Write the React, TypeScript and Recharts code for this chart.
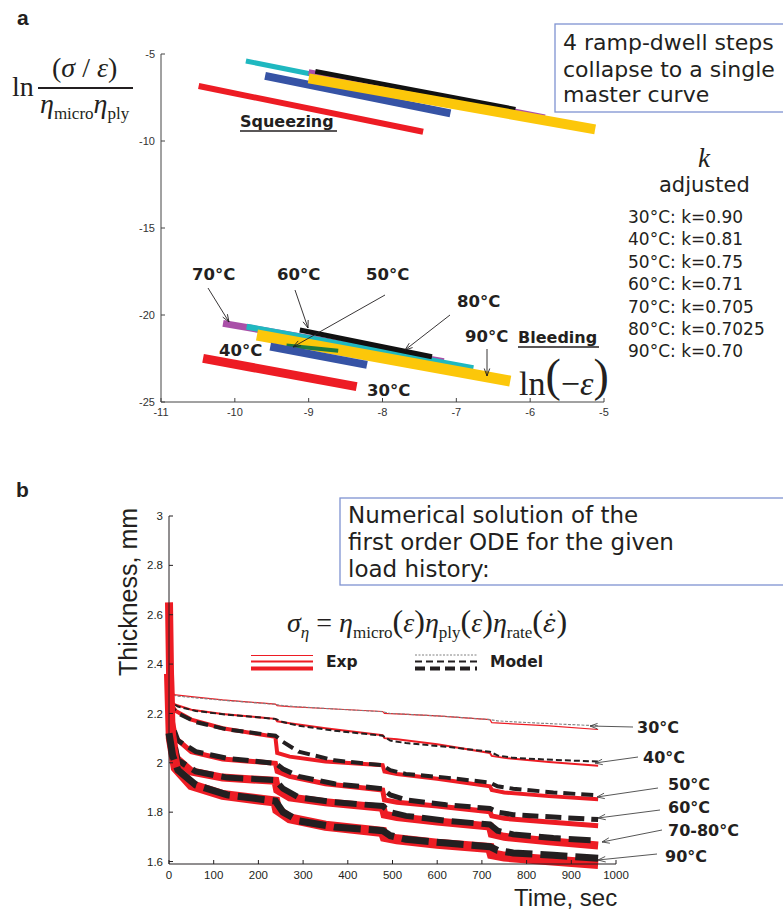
import React from 'react';
import { ComposedChart, Line, XAxis, YAxis } from 'recharts';

// ---- panel a: ln(sigma/eps)/(eta_micro*eta_ply) vs ln(-eps) ----
const xTicksA = [-11, -10, -9, -8, -7, -6, -5];
const yTicksA = [-25, -20, -15, -10, -5];

// band ends [ln(-eps), value], squeezing group
const sqz30 = [[-10.49, -6.84], [-7.45, -9.47]];
const sqz40 = [[-9.59, -6.26], [-7.08, -8.41]];
const sqz60 = [[-8.91, -6.0], [-6.2, -8.18]];
const sqz70 = [[-9.0, -6.05], [-5.8, -8.64]];
const sqz80 = [[-9.85, -5.4], [-5.37, -9.2]];
const sqz90 = [[-9.0, -6.4], [-5.12, -9.33]];

// bleeding group
const bld30 = [[-10.43, -22.49], [-8.35, -24.12]];
const bld40 = [[-9.52, -21.82], [-8.21, -22.87]];
const bld50 = [[-9.3, -21.75], [-8.6, -22.05]];
const bld60 = [[-9.12, -20.86], [-7.33, -22.4]];
const bld70 = [[-10.16, -20.48], [-7.17, -22.68]];
const bld80 = [[-9.84, -20.67], [-6.77, -23.06]];
const bld90 = [[-9.7, -21.15], [-6.27, -23.8]];

const kLines = [
  '30°C: k=0.90',
  '40°C: k=0.81',
  '50°C: k=0.75',
  '60°C: k=0.71',
  '70°C: k=0.705',
  '80°C: k=0.7025',
  '90°C: k=0.70',
];

// ---- panel b: thickness vs time ----
const xTicksB = [0, 100, 200, 300, 400, 500, 600, 700, 800, 900, 1000];
const yTicksB = [1.6, 1.8, 2, 2.2, 2.4, 2.6, 2.8, 3];

const tExp = [0, 4, 15, 50, 120, 238, 242, 270, 350, 478, 482, 510, 600, 718, 722, 750, 850, 960];
const tModel = [0, 8, 20, 60, 130, 238, 255, 290, 370, 478, 495, 530, 620, 718, 735, 770, 860, 960];

const exp30 = [2.3, 2.285, 2.275, 2.268, 2.255, 2.238, 2.232, 2.228, 2.22, 2.208, 2.2, 2.198, 2.19, 2.175, 2.163, 2.16, 2.15, 2.135];
const exp40 = [2.3, 2.25, 2.235, 2.215, 2.198, 2.178, 2.168, 2.16, 2.14, 2.112, 2.1, 2.095, 2.075, 2.04, 2.028, 2.02, 2.003, 1.988];
const exp50 = [2.36, 2.24, 2.21, 2.175, 2.14, 2.105, 2.04, 2.025, 2.005, 1.99, 1.965, 1.955, 1.935, 1.905, 1.89, 1.88, 1.865, 1.852];
const exp60 = [2.36, 2.2, 2.1, 2.045, 2.015, 1.998, 1.965, 1.945, 1.915, 1.89, 1.85, 1.84, 1.825, 1.802, 1.785, 1.775, 1.76, 1.745];
const exp7080 = [2.65, 2.15, 2.02, 1.965, 1.94, 1.927, 1.89, 1.86, 1.84, 1.818, 1.79, 1.78, 1.762, 1.742, 1.712, 1.7, 1.682, 1.665];
const exp90 = [2.36, 2.1, 1.98, 1.91, 1.87, 1.843, 1.81, 1.775, 1.745, 1.72, 1.7, 1.69, 1.672, 1.655, 1.63, 1.62, 1.605, 1.59];

const mod30 = [2.28, 2.275, 2.27, 2.263, 2.252, 2.237, 2.232, 2.227, 2.218, 2.207, 2.2, 2.197, 2.188, 2.175, 2.17, 2.166, 2.158, 2.15];
const mod40 = [2.26, 2.24, 2.228, 2.21, 2.195, 2.178, 2.165, 2.15, 2.13, 2.11, 2.09, 2.08, 2.065, 2.045, 2.03, 2.02, 2.012, 2.005];
const mod50 = [2.25, 2.22, 2.2, 2.165, 2.135, 2.11, 2.085, 2.045, 2.01, 1.99, 1.97, 1.955, 1.94, 1.92, 1.905, 1.895, 1.88, 1.868];
const mod60 = [2.22, 2.15, 2.09, 2.045, 2.018, 1.998, 1.975, 1.945, 1.915, 1.895, 1.87, 1.85, 1.83, 1.815, 1.8, 1.79, 1.78, 1.77];
const mod7080 = [2.18, 2.1, 2.01, 1.965, 1.94, 1.93, 1.895, 1.86, 1.84, 1.825, 1.8, 1.785, 1.765, 1.75, 1.725, 1.71, 1.695, 1.685];
const mod90 = [2.12, 2.03, 1.97, 1.91, 1.87, 1.845, 1.8, 1.765, 1.74, 1.725, 1.705, 1.69, 1.675, 1.66, 1.645, 1.635, 1.625, 1.613];

const INK = '#231f20';
const RED = '#ed1c24';
const SANS = 'DejaVu Sans';
const HELV = 'Liberation Sans';
const SERIF = 'Liberation Serif';

const pts = (a: number[][]) => a.map(([x, y]) => ({ x, y }));
const series = (ts: number[], vs: number[]) => ts.map((t, i) => ({ t, y: vs[i] }));

// draw order matters, later ones sit on top
const bandsA = [
  { d: sqz80, c: '#1fb8c0', w: 5 },
  { d: sqz70, c: '#a94fa8', w: 6 },
  { d: sqz60, c: '#111111', w: 5 },
  { d: sqz40, c: '#3653a5', w: 8 },
  { d: sqz90, c: '#fcc70a', w: 10 },
  { d: sqz30, c: RED, w: 6 },
  { d: bld70, c: '#a94fa8', w: 7 },
  { d: bld80, c: '#1fb8c0', w: 6 },
  { d: bld60, c: '#111111', w: 5 },
  { d: bld90, c: '#fcc70a', w: 11 },
  { d: bld50, c: '#1d7a3f', w: 4 },
  { d: bld40, c: '#3653a5', w: 8 },
  { d: bld30, c: RED, w: 9 },
];

const curvesB = [
  { e: exp30, m: mod30, ew: 1.2, mw: 1.1, mc: '#808080', dash: '3 1.5' },
  { e: exp40, m: mod40, ew: 2, mw: 2, mc: INK, dash: '6 3' },
  { e: exp50, m: mod50, ew: 4, mw: 4, mc: INK, dash: '12 6' },
  { e: exp60, m: mod60, ew: 5, mw: 5, mc: INK, dash: '16 7' },
  { e: exp7080, m: mod7080, ew: 8, mw: 6, mc: INK, dash: '22 8' },
  { e: exp90, m: mod90, ew: 10, mw: 7, mc: INK, dash: '27 8' },
];

const Arrow = ({ x1, y1, x2, y2, color = INK, head = 8 }: any) => {
  const a = Math.atan2(y2 - y1, x2 - x1);
  const s = 0.35;
  const p1 = `${x2 - head * Math.cos(a - s)},${y2 - head * Math.sin(a - s)}`;
  const p2 = `${x2 - head * Math.cos(a + s)},${y2 - head * Math.sin(a + s)}`;
  return (
    <g stroke={color} strokeWidth={0.9} fill="none">
      <line x1={x1} y1={y1} x2={x2} y2={y2} />
      <polyline points={`${p1} ${x2},${y2} ${p2}`} />
    </g>
  );
};

const tickA = { fontSize: 11, fill: '#333', fontFamily: HELV };
const tickB = { fontSize: 11.5, fill: INK, fontFamily: HELV };
const blank = () => '';

const PanelA = () => (
  <ComposedChart width={783} height={430} margin={{ top: 54, right: 179, bottom: 8, left: 121 }}>
    <XAxis type="number" dataKey="x" domain={[-11, -5]} ticks={xTicksA} height={20}
      tick={tickA} tickSize={-4} tickMargin={10} axisLine={{ stroke: '#444' }} tickLine={{ stroke: '#444' }} />
    <XAxis xAxisId="top" orientation="top" type="number" domain={[-11, -5]} ticks={xTicksA} height={0}
      tickFormatter={blank} tickSize={-4} axisLine={{ stroke: '#444' }} tickLine={{ stroke: '#444' }} />
    <YAxis type="number" domain={[-25, -5]} ticks={yTicksA} width={40}
      tick={tickA} tickSize={-4} tickMargin={10} axisLine={{ stroke: '#444' }} tickLine={{ stroke: '#444' }} />
    <YAxis yAxisId="right" orientation="right" type="number" domain={[-25, -5]} ticks={yTicksA} width={0}
      tickFormatter={blank} tickSize={-4} axisLine={{ stroke: '#444' }} tickLine={{ stroke: '#444' }} />
    {bandsA.map((b, i) => (
      <Line key={i} data={pts(b.d)} dataKey="y" type="linear" stroke={b.c} strokeWidth={b.w}
        strokeLinecap="butt" dot={false} activeDot={false} isAnimationActive={false} />
    ))}
  </ComposedChart>
);

const PanelB = () => (
  <ComposedChart width={783} height={420} margin={{ top: 46, right: 167, bottom: 6, left: 129 }}>
    <XAxis type="number" dataKey="t" domain={[0, 1000]} ticks={xTicksB} height={20}
      tick={tickB} tickSize={-4} tickMargin={11} axisLine={{ stroke: INK }} tickLine={{ stroke: INK }} />
    <XAxis xAxisId="top" orientation="top" type="number" domain={[0, 1000]} ticks={xTicksB} height={0}
      tickFormatter={blank} tickSize={-4} axisLine={{ stroke: INK }} tickLine={{ stroke: INK }} />
    <YAxis type="number" domain={[1.6, 3]} ticks={yTicksB} width={40}
      tick={tickB} tickSize={-4} tickMargin={10} axisLine={{ stroke: INK }} tickLine={{ stroke: INK }} />
    <YAxis yAxisId="right" orientation="right" type="number" domain={[1.6, 3]} ticks={yTicksB} width={0}
      tickFormatter={blank} tickSize={-4} axisLine={{ stroke: INK }} tickLine={{ stroke: INK }} />
    {curvesB.map((c, i) => [
      <Line key={`e${i}`} data={series(tExp, c.e)} dataKey="y" type="linear" stroke={RED}
        strokeWidth={c.ew} dot={false} activeDot={false} isAnimationActive={false} />,
      <Line key={`m${i}`} data={series(tModel, c.m)} dataKey="y" type="linear" stroke={c.mc}
        strokeWidth={c.mw} strokeDasharray={c.dash} dot={false} activeDot={false} isAnimationActive={false} />,
    ])}
  </ComposedChart>
);

const Overlay = () => (
  <svg width={783} height={910} style={{ position: 'absolute', left: 0, top: 0, pointerEvents: 'none' }}>
    {/* ---- panel a ---- */}
    <text x={17} y={25} fontFamily={HELV} fontWeight="bold" fontSize={21} fill={INK}>a</text>
    <text x={12} y={96} fontFamily={SERIF} fontSize={28} fill={INK}>ln</text>
    <text x={52} y={77} fontFamily={SERIF} fontSize={28} fill={INK}>
      (<tspan fontStyle="italic">σ</tspan> / <tspan fontStyle="italic">ε</tspan>)
    </text>
    <line x1={38} y1={88} x2={133} y2={88} stroke={INK} strokeWidth={1.8} />
    <text x={40} y={113} fontFamily={SERIF} fontSize={28} fill={INK}>
      <tspan fontStyle="italic">η</tspan>
      <tspan fontSize={17} dy={6}>micro</tspan>
      <tspan fontStyle="italic" dy={-6}>η</tspan>
      <tspan fontSize={17} dy={6}>ply</tspan>
    </text>

    <rect x={555} y={24} width={240} height={88} fill="#fff" stroke="#7f93d1" strokeWidth={1.3} />
    <text fontFamily={SANS} fontSize={22} fill={INK}>
      <tspan x={563} y={50}>4 ramp-dwell steps</tspan>
      <tspan x={563} y={77}>collapse to a single</tspan>
      <tspan x={563} y={102}>master curve</tspan>
    </text>

    <text x={698} y={167} fontFamily={SERIF} fontStyle="italic" fontSize={27} fill={INK}>k</text>
    <text x={659} y={192} fontFamily={SANS} fontSize={21} fill={INK}>adjusted</text>
    <text fontFamily={SANS} fontSize={17} fill={INK}>
      {kLines.map((s, i) => (
        <tspan key={i} x={628} y={223 + i * 22.4}>{s}</tspan>
      ))}
    </text>

    <text x={240} y={127} fontFamily={SANS} fontWeight="bold" fontSize={16} fill={INK}>Squeezing</text>
    <line x1={240} y1={131} x2={337} y2={131} stroke={INK} strokeWidth={1.5} />
    <text x={518} y={343} fontFamily={SANS} fontWeight="bold" fontSize={16} fill={INK}>Bleeding</text>
    <line x1={518} y1={347} x2={599} y2={347} stroke={INK} strokeWidth={1.5} />

    <g fontFamily={SANS} fontWeight="bold" fontSize={16.5} fill={INK}>
      <text x={192} y={280}>70°C</text>
      <text x={277} y={280}>60°C</text>
      <text x={366} y={280}>50°C</text>
      <text x={457} y={307}>80°C</text>
      <text x={465} y={342}>90°C</text>
      <text x={219} y={356}>40°C</text>
      <text x={367} y={396}>30°C</text>
    </g>
    <Arrow x1={208} y1={288} x2={229} y2={322} />
    <Arrow x1={295} y1={290} x2={308} y2={328} />
    <Arrow x1={385} y1={295} x2={293} y2={347} />
    <Arrow x1={450} y1={315} x2={405} y2={350} />
    <Arrow x1={487} y1={349} x2={487} y2={376} />

    <text x={519} y={395} fontFamily={SERIF} fontSize={34} fill={INK}>
      ln<tspan fontSize={46} dy={-4}>(</tspan>
      <tspan dy={4}>−</tspan>
      <tspan fontStyle="italic">ε</tspan>
      <tspan fontSize={46} dy={-4}>)</tspan>
    </text>

    {/* ---- panel b ---- */}
    <text x={16} y={497} fontFamily={HELV} fontWeight="bold" fontSize={21} fill={INK}>b</text>

    <rect x={340} y={498} width={460} height={87} fill="#fff" stroke="#7f93d1" strokeWidth={1.3} />
    <text fontFamily={SANS} fontSize={23} fill={INK}>
      <tspan x={348} y={523}>Numerical solution of the</tspan>
      <tspan x={348} y={550}>first order ODE for the given</tspan>
      <tspan x={348} y={577}>load history:</tspan>
    </text>

    <text x={287} y={632} fontFamily={SERIF} fontSize={28} fill={INK}>
      <tspan fontStyle="italic">σ</tspan>
      <tspan fontSize={17} fontStyle="italic" dy={6}>η</tspan>
      <tspan dy={-6}> = </tspan>
      <tspan fontStyle="italic">η</tspan>
      <tspan fontSize={17} dy={6}>micro</tspan>
      <tspan dy={-6} fontSize={32}>(</tspan>
      <tspan fontStyle="italic">ε</tspan>
      <tspan fontSize={32}>)</tspan>
      <tspan fontStyle="italic">η</tspan>
      <tspan fontSize={17} dy={6}>ply</tspan>
      <tspan dy={-6} fontSize={32}>(</tspan>
      <tspan fontStyle="italic">ε</tspan>
      <tspan fontSize={32}>)</tspan>
      <tspan fontStyle="italic">η</tspan>
      <tspan fontSize={17} dy={6}>rate</tspan>
      <tspan dy={-6} fontSize={32}>(</tspan>
      <tspan fontStyle="italic" fontFamily="DejaVu Serif" fontSize={25}>{'ε\u0307'}</tspan>
      <tspan fontSize={32}>)</tspan>
    </text>

    {/* legend */}
    <line x1={251} y1={655.5} x2={313} y2={655.5} stroke={RED} strokeWidth={1.2} />
    <line x1={251} y1={661.5} x2={313} y2={661.5} stroke={RED} strokeWidth={2.2} />
    <line x1={251} y1={668.5} x2={313} y2={668.5} stroke={RED} strokeWidth={4} />
    <text x={326} y={667} fontFamily={SANS} fontWeight="bold" fontSize={15.5} fill={INK}>Exp</text>
    <line x1={415} y1={655} x2={477} y2={655} stroke="#808080" strokeWidth={1} strokeDasharray="2 1.5" />
    <line x1={415} y1={661.5} x2={477} y2={661.5} stroke={INK} strokeWidth={2} strokeDasharray="7 4" />
    <line x1={415} y1={668.5} x2={477} y2={668.5} stroke={INK} strokeWidth={4} strokeDasharray="10 5" />
    <text x={490} y={667} fontFamily={SANS} fontWeight="bold" fontSize={15.5} fill={INK}>Model</text>

    <text x={137} y={592} transform="rotate(-90 137 592)" textAnchor="middle" fontFamily={HELV} fontSize={25} fill={INK}>Thickness, mm</text>
    <text x={514} y={906} fontFamily={HELV} fontSize={24} fill={INK}>Time, sec</text>

    <g fontFamily={SANS} fontWeight="bold" fontSize={16} fill={INK}>
      <text x={637} y={733}>30°C</text>
      <text x={643} y={763}>40°C</text>
      <text x={668} y={790}>50°C</text>
      <text x={668} y={813}>60°C</text>
      <text x={668} y={836}>70-80°C</text>
      <text x={665} y={862}>90°C</text>
    </g>
    <Arrow x1={633} y1={727} x2={590} y2={726} color="#444" />
    <Arrow x1={638} y1={757} x2={595} y2={763} color="#444" />
    <Arrow x1={658} y1={788} x2={597} y2={797} color="#444" />
    <Arrow x1={660} y1={810} x2={598} y2={818} color="#444" />
    <Arrow x1={662} y1={830} x2={602} y2={842} color="#444" />
    <Arrow x1={657} y1={854} x2={598} y2={860} color="#444" />
  </svg>
);

export default function App() {
  return (
    <div style={{ position: 'absolute', left: 0, top: 0, width: 783, height: 910, background: '#fff', overflow: 'hidden' }}>
      <div style={{ position: 'absolute', left: 0, top: 0 }}>
        <PanelA />
      </div>
      <div style={{ position: 'absolute', left: 0, top: 470 }}>
        <PanelB />
      </div>
      <Overlay />
    </div>
  );
}
